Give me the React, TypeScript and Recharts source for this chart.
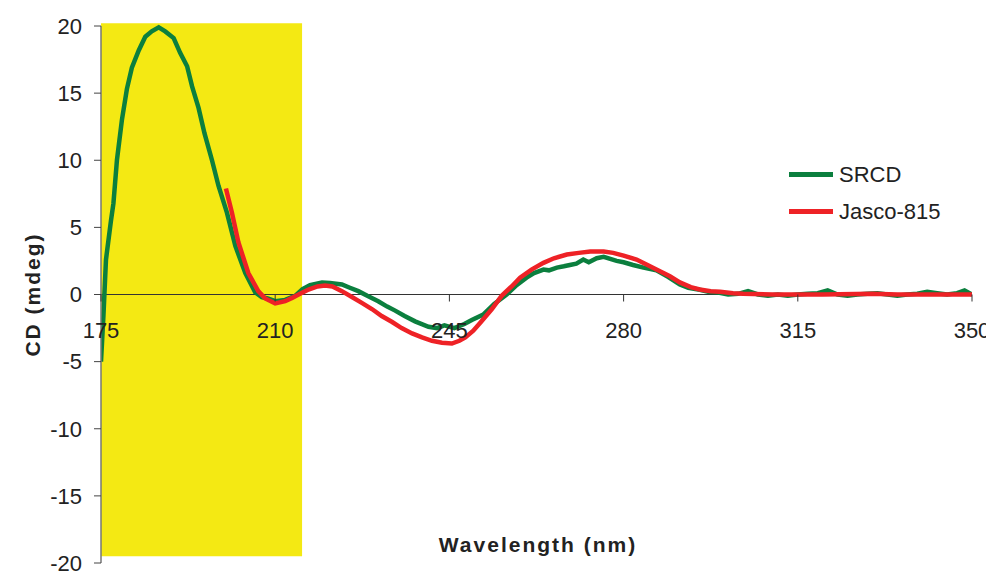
import React from 'react';
import { LineChart, Line, XAxis, YAxis, ReferenceArea, ReferenceLine, Legend } from 'recharts';

// SRCD spectrum (nm / mdeg)
const srcdNm = [
  175, 175.5, 176, 177, 177.5, 178.2, 179.2, 180.2, 181.2, 182.6, 183.9, 185.2, 186.6, 187.9, 189.6,
  190.9, 192.3, 193.3, 194.6, 195.8, 197.3, 198.6, 200.3, 202, 204, 206, 207.3, 208.5, 210, 212, 214,
  215.5, 217, 219.4, 221, 223.4, 225, 226.7, 228.5, 230.7, 232.5, 234.1, 236, 238.1, 240.8, 242.5, 244,
  246, 248, 249.5, 251.8, 254, 256.5, 258.5, 260.5, 262, 263.9, 265, 266.6, 268, 269.2, 270.5, 271.9,
  273, 274.6, 276, 278.6, 280, 281.9, 284, 286.6, 289, 291.3, 293, 295.3, 297, 299, 301, 303, 305, 307,
  309, 311, 313, 315, 317, 319, 321, 323, 325, 327, 329, 331, 333, 335, 337, 339, 341, 343, 345, 347,
  348.5, 350,
];
const srcdCd = [
  -5.0, -1.5, 2.6, 5.5, 6.8, 10.0, 13.0, 15.3, 16.9, 18.2, 19.2, 19.6, 19.9, 19.6, 19.1,
  18.0, 17.0, 15.5, 13.9, 12.0, 10.0, 8.1, 6.1, 3.6, 1.6, 0.15, -0.2, -0.3, -0.5, -0.4, -0.1,
  0.4, 0.7, 0.9, 0.85, 0.75, 0.5, 0.25, -0.1, -0.5, -0.9, -1.2, -1.6, -2.0, -2.4, -2.5, -2.3,
  -2.5, -2.2, -1.9, -1.5, -0.7, 0, 0.7, 1.25, 1.6, 1.86, 1.8, 2.0, 2.1, 2.2, 2.3, 2.6,
  2.4, 2.7, 2.8, 2.5, 2.4, 2.2, 2.0, 1.8, 1.3, 0.75, 0.5, 0.35, 0.2, 0.15, 0.0, 0.05, 0.25, 0.0,
  -0.1, 0.0, -0.1, 0.0, 0.05, 0.1, 0.3, 0.0, -0.1, 0.0, 0.05, 0.1, 0.0, -0.1, 0.0, 0.05, 0.2, 0.1, 0.0, 0.1,
  0.3, 0.0,
];

// Jasco-815 spectrum
const jascoNm = [
  200.1, 201.3, 202.6, 204.6, 206.6, 208, 210, 212, 213.4, 215, 216.7, 218.5, 220, 221.5, 223.4, 225.5,
  227.4, 229.5, 231.4, 233.5, 235.4, 237.5, 239.5, 241.5, 243.5, 245.5, 247, 248.2, 249.8, 251.2, 253.5,
  255.5, 257.5, 259.2, 261.5, 263.9, 266, 268.6, 271, 273.3, 276, 277.9, 280, 282.6, 284.5, 286.6, 289.3,
  291.3, 293.5, 295.3, 297.5, 299.4, 302, 304, 310, 320, 330, 335, 340, 350,
];
const jascoCd = [
  7.9, 6.1, 3.9, 1.6, 0.25, -0.3, -0.67, -0.5, -0.25, 0.05, 0.37, 0.6, 0.67, 0.6, 0.25, -0.2,
  -0.62, -1.1, -1.6, -2.05, -2.5, -2.9, -3.2, -3.45, -3.6, -3.65, -3.45, -3.2, -2.7, -2.1, -1.1,
  -0.1, 0.6, 1.25, 1.85, 2.36, 2.7, 2.98, 3.1, 3.2, 3.2, 3.1, 2.9, 2.6, 2.25, 1.86, 1.36,
  0.9, 0.55, 0.37, 0.25, 0.2, 0.1, 0.05, 0.0, 0.0, 0.05, 0.0, 0.0, 0.0,
];

const seriesNames = ['SRCD', 'Jasco-815'];
const xTicks = [175, 210, 245, 280, 315, 350];
const yTicks = [-20, -15, -10, -5, 0, 5, 10, 15, 20];

const srcdData = srcdNm.map((nm, i) => ({ nm, cd: srcdCd[i] }));
const jascoData = jascoNm.map((nm, i) => ({ nm, cd: jascoCd[i] }));

const FONT = "'Liberation Sans', Arial, sans-serif";
const W = 986;
const H = 572;
const M = { top: 18, right: 22, left: 0, bottom: 16 };
const X_AXIS_H = 1;
const ZERO_Y = M.top + (H - M.top - M.bottom - X_AXIS_H) / 2;

function XTick(props: any) {
  const { x, payload } = props;
  return (
    <g>
      <line x1={x} x2={x} y1={ZERO_Y} y2={ZERO_Y + 7} stroke="#333" strokeWidth={1} />
      <text x={x} y={ZERO_Y + 43} textAnchor="middle" fontSize={22} fill="#222" fontFamily={FONT}>
        {payload.value}
      </text>
    </g>
  );
}

function LegendBox(props: any) {
  const items = [...(props.payload || [])].sort(
    (a: any, b: any) => seriesNames.indexOf(a.value) - seriesNames.indexOf(b.value)
  );
  return (
    <div style={{ fontFamily: FONT, fontSize: 22, color: '#222' }}>
      {items.map((it: any) => (
        <div key={it.value} style={{ display: 'flex', alignItems: 'center', height: 37 }}>
          <span style={{ display: 'inline-block', width: 44, height: 5, background: it.color, marginRight: 6 }} />
          <span>{it.value}</span>
        </div>
      ))}
    </div>
  );
}

export default function App() {
  return (
    <LineChart width={W} height={H} margin={M}>
      <ReferenceArea x1={175} x2={215.4} y1={-19.5} y2={20.2} fill="#f4e913" fillOpacity={1} stroke="none" ifOverflow="visible" />
      <ReferenceLine y={0} stroke="#333" strokeWidth={1} />
      <XAxis
        dataKey="nm"
        type="number"
        domain={[175, 350]}
        ticks={xTicks}
        interval={0}
        height={X_AXIS_H}
        axisLine={false}
        tickLine={false}
        tick={<XTick />}
        allowDataOverflow
        label={{
          content: () => (
            <text x={530} y={544} textAnchor="middle" fontSize={21} fontWeight="bold" letterSpacing={2} fill="#222" fontFamily={FONT}>
              Wavelength (nm)
            </text>
          ),
        }}
      />
      <YAxis
        domain={[-20, 20]}
        ticks={yTicks}
        interval={0}
        width={93}
        axisLine={{ stroke: '#777', strokeWidth: 1.5 }}
        tickLine={{ stroke: '#444' }}
        tickSize={7}
        tickMargin={12}
        tick={{ fontSize: 22, fill: '#222', fontFamily: FONT }}
        label={{
          content: () => (
            <text
              x={24}
              y={ZERO_Y}
              transform={`rotate(-90, 24, ${ZERO_Y})`}
              textAnchor="middle"
              dominantBaseline="central"
              fontSize={21}
              fontWeight="bold"
              letterSpacing={2}
              fill="#222"
              fontFamily={FONT}
            >
              CD (mdeg)
            </text>
          ),
        }}
      />
      <Legend
        layout="vertical"
        align="center"
        verticalAlign="middle"
        content={<LegendBox />}
        wrapperStyle={{ left: 781, top: 148, width: 200 }}
      />
      <Line data={srcdData} dataKey="cd" name="SRCD" stroke="#0b7f3e" strokeWidth={4.5} dot={false} type="linear" isAnimationActive={false} />
      <Line data={jascoData} dataKey="cd" name="Jasco-815" stroke="#ee2226" strokeWidth={4.5} dot={false} type="linear" isAnimationActive={false} />
    </LineChart>
  );
}
